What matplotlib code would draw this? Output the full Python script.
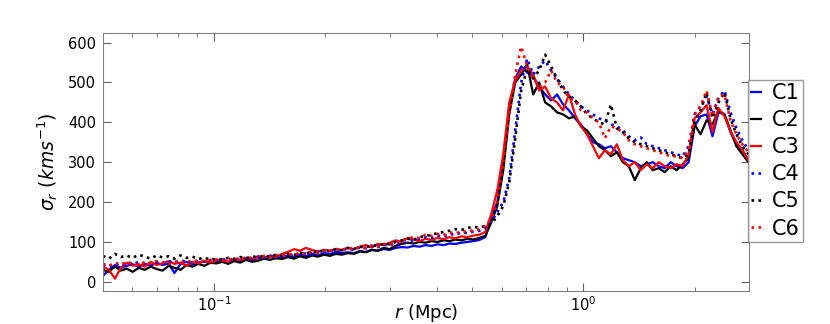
import matplotlib
matplotlib.use("Agg")
import matplotlib.pyplot as plt

r = [0.0500, 0.0519, 0.0539, 0.0559, 0.0580, 0.0602, 0.0625, 0.0649, 0.0673, 0.0699,
     0.0725, 0.0753, 0.0781, 0.0811, 0.0842, 0.0874, 0.0907, 0.0941, 0.0977, 0.1014,
     0.1052, 0.1092, 0.1134, 0.1177, 0.1221, 0.1268, 0.1316, 0.1366, 0.1418, 0.1471,
     0.1527, 0.1585, 0.1646, 0.1708, 0.1773, 0.1840, 0.1910, 0.1983, 0.2058, 0.2136,
     0.2217, 0.2301, 0.2389, 0.2480, 0.2574, 0.2671, 0.2773, 0.2878, 0.2987, 0.3101,
     0.3219, 0.3341, 0.3468, 0.3599, 0.3736, 0.3878, 0.4025, 0.4178, 0.4337, 0.4501,
     0.4672, 0.4850, 0.5034, 0.5225, 0.5423, 0.5629, 0.5843, 0.6065, 0.6295, 0.6534,
     0.6782, 0.7040, 0.7307, 0.7584, 0.7872, 0.8171, 0.8481, 0.8803, 0.9137, 0.9484,
     0.9844, 1.0218, 1.0606, 1.1009, 1.1427, 1.1861, 1.2311, 1.2779, 1.3264, 1.3768,
     1.4291, 1.4833, 1.5397, 1.5981, 1.6588, 1.7218, 1.7872, 1.8551, 1.9255, 1.9987,
     2.0746, 2.1534, 2.2351, 2.3200, 2.4081, 2.4996, 2.5945, 2.6930, 2.7953]

C1 = [15, 30, 42, 35, 40, 44, 38, 45, 40, 48, 42, 46, 22, 45, 50, 44, 48, 52, 47,
      50, 55, 48, 56, 52, 58, 54, 60, 57, 63, 58, 62, 66, 61, 68, 64, 70, 66, 72, 69, 75, 72,
      74, 72, 77, 75, 80, 78, 82, 80, 85, 87, 86, 90, 88, 92, 90, 94, 92, 96, 95, 98, 100, 102, 105, 112,
      160, 200, 300, 430, 510, 540, 525, 515, 490, 470, 455, 470, 445, 430,
      410, 395, 370, 350, 345, 335, 340, 325, 310, 305, 300, 290, 295, 300, 290, 285, 300, 290, 285, 300,
      390, 415, 420, 365, 425, 420, 375, 345, 330, 305]

C2 = [30, 25, 38, 28, 33, 25, 35, 30, 38, 32, 28, 40, 35, 30, 42, 38, 45, 40, 48,
      46, 50, 45, 52, 48, 55, 50, 53, 58, 55, 60, 57, 62, 58, 64, 60, 66, 63, 68, 65, 70, 68,
      72, 70, 76, 74, 80, 78, 85, 82, 90, 95, 98, 96, 100, 98, 102, 100, 104, 102, 106, 104, 108, 106, 110, 115,
      150, 190, 280, 420, 500, 520, 545, 470, 500, 450, 440, 425, 420, 410,
      415, 390, 380, 360, 340, 330, 315, 325, 300, 290, 255, 285, 300, 280, 285, 275, 290, 280, 295, 310,
      395, 370, 405, 395, 430, 420, 380, 340, 320, 300]

C3 = [38, 30, 8, 35, 48, 40, 44, 38, 50, 42, 46, 52, 45, 48, 40, 50, 46, 52, 49,
      52, 56, 50, 58, 55, 60, 57, 64, 60, 66, 62, 70, 75, 82, 78, 85, 80, 76, 80, 78, 82, 80,
      85, 82, 88, 92, 86, 95, 92, 98, 104, 100, 110, 106, 102, 108, 105, 110, 107, 112, 109, 114, 112, 116, 118, 125,
      170, 230, 320, 450, 505, 530, 540, 520, 480, 490, 460, 450, 430, 470,
      420, 390, 370, 340, 310, 330, 320, 345, 305, 290, 300, 280, 295, 285, 300, 290, 285, 295, 290, 320,
      410, 425, 443, 376, 436, 415, 378, 350, 330, 305]

C4 = [42, 38, 45, 40, 48, 44, 50, 46, 43, 50, 47, 52, 48, 54, 50, 47, 53, 50, 55,
      53, 57, 54, 59, 56, 61, 58, 63, 60, 65, 62, 67, 64, 70, 67, 72, 69, 75, 72, 78, 76, 80,
      83, 80, 86, 84, 90, 87, 93, 90, 97, 94, 100, 104, 108, 112, 110, 116, 113, 120, 118, 124, 122, 126, 128, 135,
      150, 175, 200, 260, 380, 500, 560, 520, 540, 555, 530, 510, 490, 470,
      455, 440, 430, 420, 410, 405, 395, 390, 380, 365, 355, 362, 345, 340, 335, 330, 325, 320, 315, 340,
      420, 440, 465, 420, 460, 480, 425, 385, 355, 330]

C5 = [65, 58, 70, 62, 66, 60, 68, 63, 58, 66, 61, 64, 58, 66, 60, 63, 57, 61, 55,
      58, 56, 60, 57, 62, 59, 64, 61, 66, 63, 68, 65, 70, 67, 73, 70, 76, 73, 79, 76, 82, 79,
      85, 82, 88, 86, 92, 90, 96, 94, 100, 104, 108, 105, 112, 115, 118, 122, 125, 128, 132, 130, 135, 138, 136, 140,
      145, 165, 190, 250, 360, 480, 535, 510, 530, 570, 540, 510, 480, 465,
      455, 440, 420, 410, 400, 395, 445, 385, 375, 360, 350, 345, 340, 335, 330, 325, 320, 315, 310, 320,
      400, 430, 475, 410, 450, 475, 410, 370, 340, 320]

C6 = [45, 40, 48, 43, 50, 46, 42, 49, 45, 52, 48, 44, 51, 47, 53, 49, 55, 51, 54,
      56, 53, 58, 55, 60, 57, 62, 59, 65, 62, 67, 64, 70, 67, 73, 70, 76, 73, 79, 77, 82, 80,
      84, 82, 87, 85, 91, 89, 95, 93, 99, 104, 108, 112, 110, 118, 115, 120, 117, 124, 121, 127, 125, 130, 132, 140,
      160, 200, 300, 420, 520, 590, 540, 510, 490, 500, 530, 500, 490, 460,
      455, 430, 425, 410, 400, 360, 390, 385, 375, 355, 345, 340, 335, 330, 325, 320, 315, 315, 310, 330,
      420, 440, 480, 415, 465, 470, 405, 370, 345, 325]

labels = ["C1", "C2", "C3", "C4", "C5", "C6"]
series = [C1, C2, C3, C4, C5, C6]
colors = ["#0000ff", "#000000", "#ff0000", "#0000ff", "#000000", "#ff0000"]
styles = ["-", "-", "-", ":", ":", ":"]

fig = plt.figure(figsize=(8.3, 3.24), dpi=100)
ax = fig.add_axes([0.124, 0.102, 0.778, 0.796])

for y, lab, c, ls in zip(series, labels, colors, styles):
    ax.plot(r, y, color=c, linestyle=ls, linewidth=1.6 if ls == "-" else 1.9, label=lab)

ax.set_xscale("log")
ax.set_xlim(0.05, 2.8)
ax.set_ylim(-23, 624)
ax.set_yticks([0, 100, 200, 300, 400, 500, 600])

for s in ax.spines.values():
    s.set_color("#808080")
ax.tick_params(which="both", direction="in", top=True, right=True, color="#606060")
ax.tick_params(which="major", length=6, labelsize=10.5)
ax.tick_params(axis="y", which="major", pad=5)
ax.tick_params(axis="x", which="major", pad=3)
ax.tick_params(which="minor", length=3)

ax.set_xlabel(r"$r$ (Mpc)", fontsize=13)
ax.xaxis.set_label_coords(0.5, -0.042)
ax.set_ylabel(r"$\sigma_r\ (kms^{-1})$", fontsize=13.5)
ax.yaxis.set_label_coords(-0.066, 0.5)

leg = fig.legend(loc="upper left", bbox_to_anchor=(0.901, 0.753), frameon=True,
                 fancybox=False, fontsize=15, handlelength=0.5, handletextpad=0.5,
                 borderpad=0.15, labelspacing=0.34, borderaxespad=0)
leg.get_frame().set_edgecolor("#808080")
leg.get_frame().set_linewidth(1.0)

fig.savefig("out.png", dpi=100)
